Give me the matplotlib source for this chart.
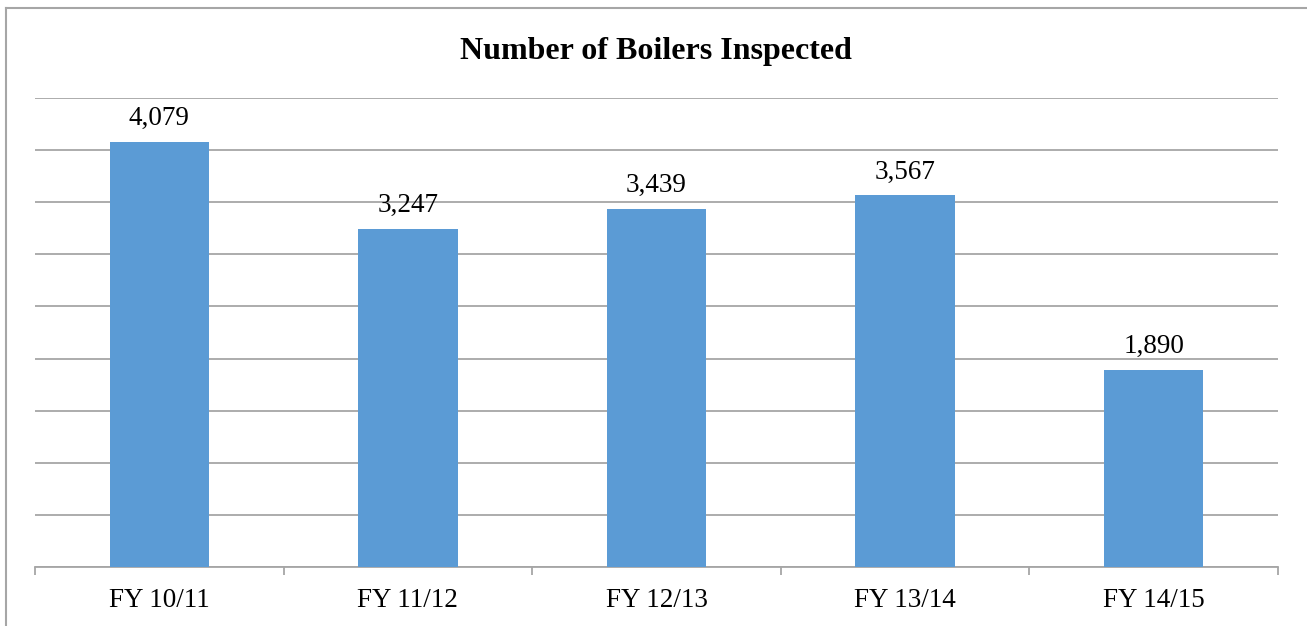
import matplotlib
matplotlib.use("Agg")
import matplotlib.pyplot as plt
from matplotlib.lines import Line2D

categories = ["FY 10/11", "FY 11/12", "FY 12/13", "FY 13/14", "FY 14/15"]
values = [4079, 3247, 3439, 3567, 1890]
title = "Number of Boilers Inspected"

plt.rcParams['font.family'] = ['Liberation Serif', 'DejaVu Serif']

W, H = 1307, 626
fig = plt.figure(figsize=(W / 100, H / 100), dpi=100)
ax = fig.add_axes([35 / W, 1 - 567 / H, (1278 - 35) / W, (567 - 98) / H])

x = list(range(len(categories)))
ax.bar(x, values, width=0.4, color="#5B9BD5", zorder=3)
ax.set_xlim(-0.5, len(categories) - 0.5)
ax.set_ylim(0, 4500)
ax.set_yticks(range(0, 4501, 500))
ax.yaxis.grid(True, color="#A6A6A6", linewidth=1.3, zorder=0)
ax.tick_params(axis='y', left=False, labelleft=False)
for s in ["top", "right", "left"]:
    ax.spines[s].set_visible(False)
ax.spines["bottom"].set_color("#A6A6A6")
ax.spines["bottom"].set_linewidth(1.3)

ax.set_xticks([i - 0.5 for i in range(len(categories) + 1)], minor=False)
ax.set_xticklabels([])
ax.tick_params(axis='x', which='major', length=6, color="#A6A6A6", width=1.3)
ax.set_xticks(x, minor=True)
ax.set_xticklabels(categories, minor=True, fontsize=19.5)
ax.tick_params(axis='x', which='minor', length=0, pad=15)

for xi, v in zip(x, values):
    ax.annotate(f"{v:,}", (xi, v), xytext=(0, 12), textcoords="offset points",
                ha="center", va="baseline", fontsize=19.5)

fig.text(656 / W, 1 - 59 / H, title, ha="center", va="baseline",
         fontsize=23, fontweight="bold")

# outer chart frame (left and top edges visible)
fig.add_artist(Line2D([6 / W, 6 / W], [0, 1 - 8 / H], color="#A6A6A6", linewidth=1.5,
                      transform=fig.transFigure))
fig.add_artist(Line2D([6 / W, 1], [1 - 8 / H, 1 - 8 / H], color="#A6A6A6", linewidth=1.5,
                      transform=fig.transFigure))

fig.savefig("out.png", dpi=100)
